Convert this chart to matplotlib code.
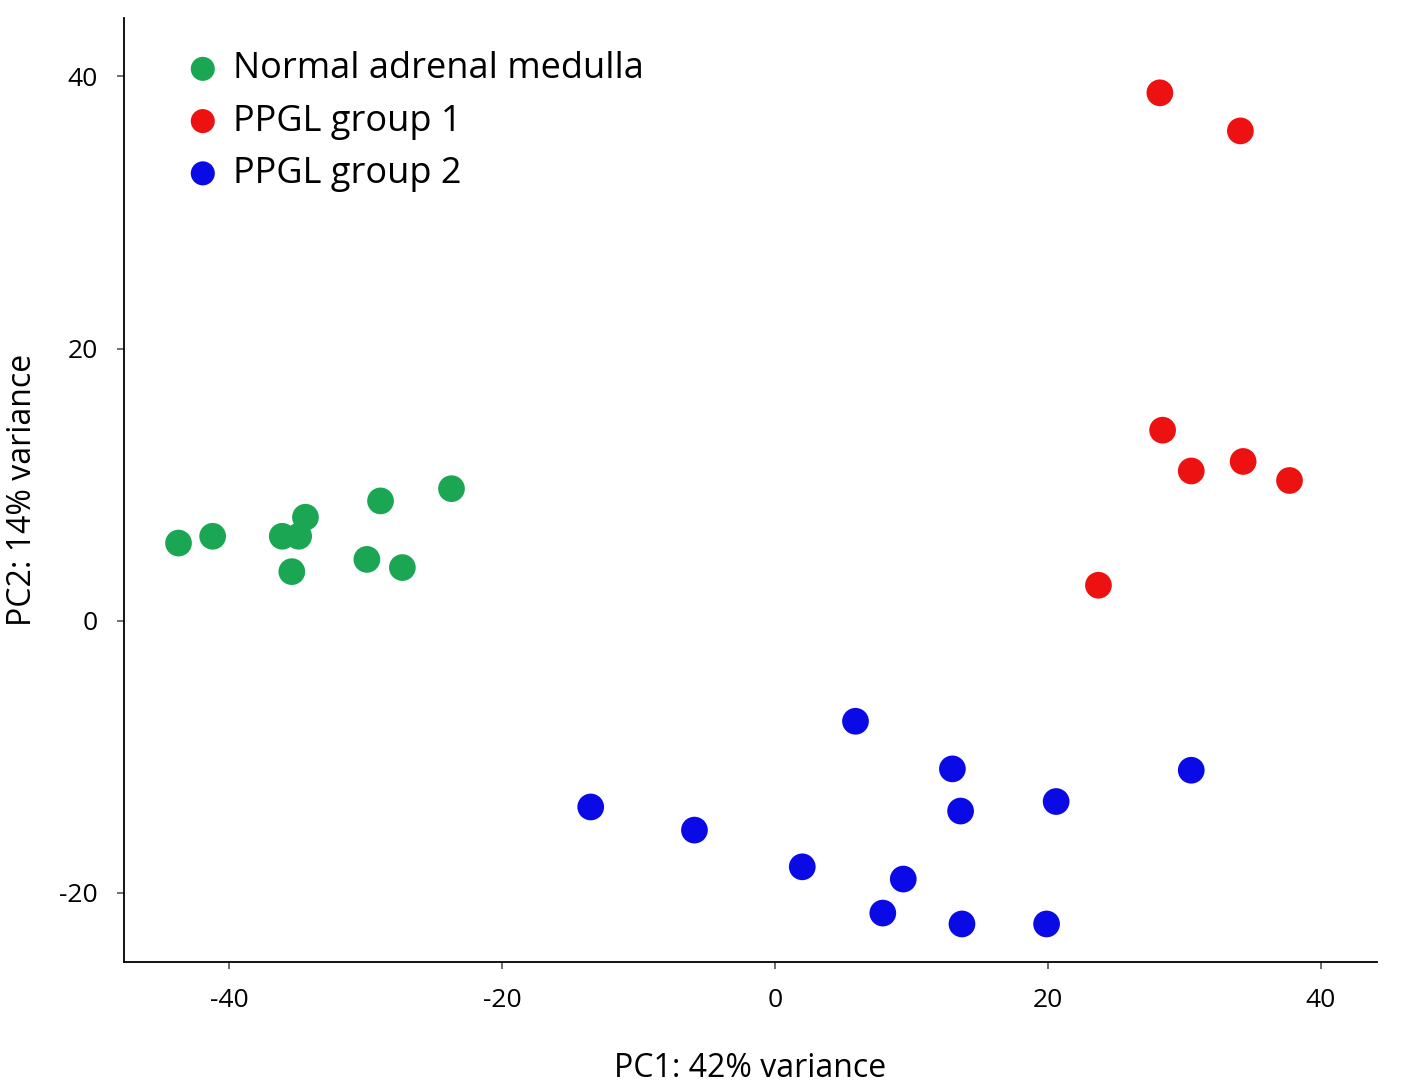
import matplotlib
matplotlib.use('Agg')
import matplotlib.pyplot as plt

plt.rcParams['font.family'] = ['Open Sans', 'DejaVu Sans']
plt.rcParams['axes.unicode_minus'] = False

# PCA coordinates
normal_x = [-43.7, -41.2, -36.1, -34.9, -34.4, -35.4, -29.9, -28.9, -27.3, -23.7]
normal_y = [5.7, 6.2, 6.2, 6.2, 7.6, 3.6, 4.5, 8.8, 3.9, 9.7]

group1_x = [28.2, 34.1, 28.4, 30.5, 34.3, 37.7, 23.7]
group1_y = [38.8, 36.0, 14.0, 11.0, 11.7, 10.3, 2.6]

group2_x = [5.9, 13.0, 30.5, -13.5, 13.6, 20.6, -5.9, 2.0, 9.4, 7.9, 13.7, 19.9]
group2_y = [-7.4, -10.9, -11.0, -13.7, -14.0, -13.3, -15.4, -18.1, -19.0, -21.5, -22.3, -22.3]

labels = ['Normal adrenal medulla', 'PPGL group 1', 'PPGL group 2']
colors = ['#1aa652', '#ee1111', '#0a0ae6']

fig = plt.figure(figsize=(14.18, 10.91), dpi=100)
ax = fig.add_axes([0.0874, 0.1182, 0.8836, 0.8653])

for xs, ys, lab, col in zip([normal_x, group1_x, group2_x],
                            [normal_y, group1_y, group2_y], labels, colors):
    ax.scatter(xs, ys, s=370, color=col, label=lab, edgecolors='none')

ax.set_xlim(-47.7, 44.1)
ax.set_ylim(-25.1, 44.3)
ax.set_xticks([-40, -20, 0, 20, 40])
ax.set_yticks([-20, 0, 20, 40])
ax.tick_params(labelsize=19, length=5, width=1.2, color='#555555', pad=14)

ax.spines['top'].set_visible(False)
ax.spines['right'].set_visible(False)
ax.spines['left'].set_linewidth(1.3)
ax.spines['bottom'].set_linewidth(1.3)

ax.set_xlabel('PC1: 42% variance', fontsize=23, labelpad=28)
ax.set_ylabel('PC2: 14% variance', fontsize=23, labelpad=14)

ax.legend(loc='upper left', bbox_to_anchor=(0.037, 0.98), frameon=False,
          fontsize=26, handlelength=1.0, handletextpad=0.35, labelspacing=0.45,
          markerscale=0.9, borderaxespad=0.0)

fig.savefig('out.png', dpi=100)
